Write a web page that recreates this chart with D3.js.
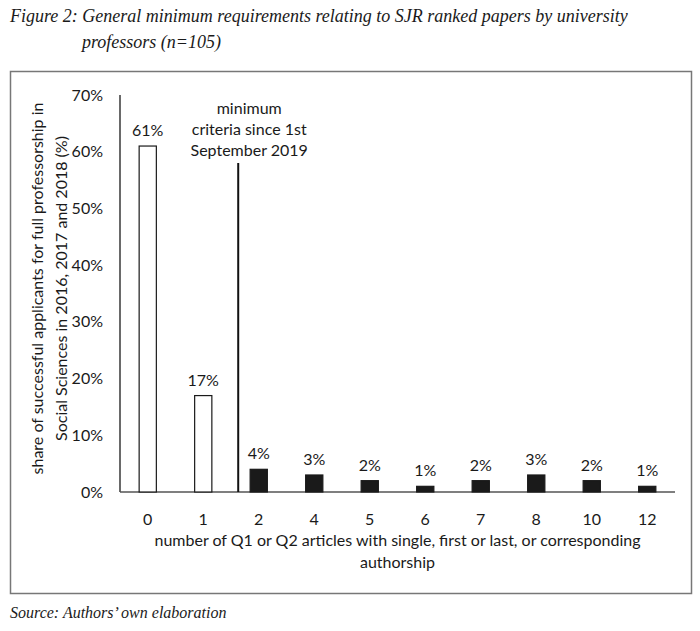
<!DOCTYPE html>
<html>
<head>
<meta charset="utf-8">
<script src="https://cdn.jsdelivr.net/npm/d3@7"></script>
<style>
  body { margin: 0; background: #fff; }
  svg text { fill: #1a1a1a; }
  .cap { font-family: "Liberation Serif", "DejaVu Serif", serif; font-style: italic; }
  .lbl { font-family: Lato, "Open Sans", sans-serif; }
</style>
</head>
<body>
<svg id="chart"></svg>
<script>
// data
const categories = ['0', '1', '2', '4', '5', '6', '7', '8', '10', '12'];
const shares = [61, 17, 4, 3, 2, 1, 2, 3, 2, 1];
const hollow = ['0', '1'];               // below the minimum requirement
const yTicks = [0, 10, 20, 30, 40, 50, 60, 70];
const cutoffAt = 1.63;                   // position of the marker line, in category units
const cutoffTop = 58;                    // top of the marker line, in %
const cutoffNote = ['minimum', 'criteria since 1st', 'September 2019'];
const titleLines = ['Figure 2: General minimum requirements relating to SJR ranked papers by university',
                    'professors (n=105)'];
const yTitle = ['share of successful applicants for full professorship in',
                'Social Sciences in 2016, 2017 and 2018 (%)'];
const xTitle = ['number of Q1 or Q2 articles with single, first or last, or corresponding',
                'authorship'];
const source = 'Source: Authors\u2019 own elaboration';

const W = 700, H = 631;
const margin = {top: 95, right: 25, bottom: 139, left: 120};
const width = W - margin.left - margin.right;
const height = H - margin.top - margin.bottom;

const svg = d3.select('#chart').attr('width', W).attr('height', H);

// frame round the chart
svg.append('rect')
    .attr('x', 10.5).attr('y', 71.5)
    .attr('width', 681).attr('height', 522)
    .attr('fill', 'none')
    .attr('stroke', '#777')
    .attr('stroke-width', 1.5);

// caption
svg.selectAll('.title')
  .data(titleLines)
  .join('text')
    .attr('class', 'cap')
    .attr('x', (d, i) => i ? 82 : 10)
    .attr('y', (d, i) => 22 + i * 26)
    .attr('font-size', '18px')
    .text(d => d);

svg.append('text')
    .attr('class', 'cap')
    .attr('x', 10).attr('y', 618)
    .attr('font-size', '16px')
    .text(source);

const chart = svg.append('g')
    .attr('transform', `translate(${margin.left},${margin.top})`);

const xScale = d3.scaleBand()
    .domain(categories)
    .range([0, width])
    .paddingInner(0.69)
    .paddingOuter(0.345);

const yScale = d3.scaleLinear()
    .domain([0, 70])
    .range([height, 0]);

const yAxis = d3.axisLeft(yScale)
    .tickValues(yTicks)
    .tickFormat(d => d + '%')
    .tickSize(0)
    .tickPadding(17);

const xAxis = d3.axisBottom(xScale)
    .tickSize(0)
    .tickPadding(22);

const yAxisG = chart.append('g').call(yAxis);
yAxisG.select('.domain').attr('stroke', '#1a1a1a').attr('stroke-width', 1.3).attr('d', `M0,0V${height}`);
yAxisG.selectAll('text').attr('class', 'lbl').attr('font-size', '16px').attr('fill', '#1a1a1a');

const xAxisG = chart.append('g')
    .attr('transform', `translate(0,${height})`)
    .call(xAxis);
xAxisG.select('.domain').attr('stroke', '#555').attr('stroke-width', 1.3).attr('d', `M0,0H${width}`);
xAxisG.selectAll('text').attr('class', 'lbl').attr('font-size', '16px').attr('fill', '#1a1a1a');

// bars
chart.selectAll('.bar')
  .data(categories)
  .join('rect')
    .attr('class', 'bar')
    .attr('x', d => xScale(d))
    .attr('y', (d, i) => yScale(shares[i]))
    .attr('width', xScale.bandwidth())
    .attr('height', (d, i) => height - yScale(shares[i]))
    .attr('fill', d => hollow.includes(d) ? '#fff' : '#1a1a1a')
    .attr('stroke', '#1a1a1a')
    .attr('stroke-width', 1.2);

// value labels
chart.selectAll('.val')
  .data(categories)
  .join('text')
    .attr('class', 'lbl')
    .attr('x', d => xScale(d) + xScale.bandwidth() / 2)
    .attr('y', (d, i) => yScale(shares[i]) - 10)
    .attr('text-anchor', 'middle')
    .attr('font-size', '16px')
    .text((d, i) => shares[i] + '%');

// minimum criteria marker
const step = xScale.step();
const cutX = xScale(categories[0]) + xScale.bandwidth() / 2 + cutoffAt * step;
chart.append('line')
    .attr('x1', cutX).attr('x2', cutX)
    .attr('y1', yScale(cutoffTop)).attr('y2', height)
    .attr('stroke', '#111')
    .attr('stroke-width', 2);

chart.selectAll('.note')
  .data(cutoffNote)
  .join('text')
    .attr('class', 'lbl')
    .attr('x', cutX + 11)
    .attr('y', (d, i) => 19 + i * 21)
    .attr('text-anchor', 'middle')
    .attr('font-size', '16px')
    .text(d => d);

// axis titles
chart.selectAll('.ytitle')
  .data(yTitle)
  .join('text')
    .attr('class', 'lbl')
    .attr('transform', (d, i) => `translate(${-77 + i * 24},${height / 2 - 5}) rotate(-90)`)
    .attr('text-anchor', 'middle')
    .attr('font-size', '16px')
    .text(d => d);

chart.selectAll('.xtitle')
  .data(xTitle)
  .join('text')
    .attr('class', 'lbl')
    .attr('x', width / 2)
    .attr('y', (d, i) => height + 54 + i * 22)
    .attr('text-anchor', 'middle')
    .attr('font-size', '16px')
    .text(d => d);
</script>
</body>
</html>
